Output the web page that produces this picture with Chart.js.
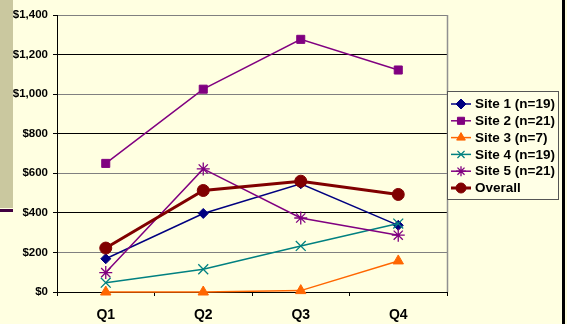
<!DOCTYPE html>
<html>
<head>
<meta charset="utf-8">
<script src="https://cdn.jsdelivr.net/npm/chart.js@4/dist/chart.umd.min.js"></script>
<style>
  html, body { margin: 0; padding: 0; background: #FFFFE1; overflow: hidden; }
  canvas { display: block; }
</style>
</head>
<body>
<canvas id="c" width="567" height="324"></canvas>
<script>
const categories = ['Q1', 'Q2', 'Q3', 'Q4'];
const seriesLabels = ['Site 1 (n=19)', 'Site 2 (n=21)', 'Site 3 (n=7)', 'Site 4 (n=19)', 'Site 5 (n=21)', 'Overall'];
const site1 = [168, 397, 547, 337];
const site2 = [650, 1025, 1277, 1122];
const site3 = [0, 0, 7, 157];
const site4 = [47, 115, 233, 346];
const site5 = [98, 622, 374, 287];
const overall = [222, 513, 560, 493];
const yMin = 0, yMax = 1400, yStep = 200;

const FONT = "'Liberation Sans', Arial, sans-serif";

function mk(label, data, color, style, radius, width, order) {
  return {
    label, data,
    borderColor: color, backgroundColor: color,
    pointBackgroundColor: color, pointBorderColor: color,
    pointStyle: style, pointRadius: radius, pointHoverRadius: radius,
    pointBorderWidth: (style === 'crossRot' || style === 'star') ? 1.3 : 1,
    borderWidth: width, tension: 0, fill: false, clip: false, order
  };
}

const datasets = [
  mk(seriesLabels[0], site1, '#000080', 'rectRot', 5, 1.5, 6),
  mk(seriesLabels[1], site2, '#800080', 'rect', 5.7, 1.5, 5),
  mk(seriesLabels[2], site3, '#FF6600', 'triangle', 6, 1.5, 4),
  mk(seriesLabels[3], site4, '#008080', 'crossRot', 7, 1.5, 3),
  mk(seriesLabels[4], site5, '#800080', 'star', 6.5, 1.5, 2),
  mk(seriesLabels[5], overall, '#800000', 'circle', 6, 3, 1)
];

function drawMarker(ctx, style, r, x, y, color, bw) {
  if (Chart.helpers && Chart.helpers.drawPoint) {
    ctx.save();
    ctx.fillStyle = color; ctx.strokeStyle = color; ctx.lineWidth = bw;
    Chart.helpers.drawPoint(ctx, { pointStyle: style, radius: r, rotation: 0, borderWidth: bw }, x, y);
    ctx.restore();
  }
}

const decor = {
  id: 'decor',
  beforeDraw(chart) {
    const ctx = chart.ctx;
    ctx.save();
    ctx.fillStyle = '#CAC89F';
    ctx.fillRect(0, 0, 13, 208);
    ctx.fillStyle = '#400040';
    ctx.fillRect(0, 209, 13, 3);
    ctx.fillStyle = '#000';
    ctx.fillRect(562, 0, 3, 324);
    ctx.restore();
  },
  afterDraw(chart) {
    const ctx = chart.ctx;
    const a = chart.chartArea;
    ctx.save();
    ctx.strokeStyle = '#909090';
    ctx.lineWidth = 1.5;
    ctx.beginPath();
    ctx.moveTo(Math.round(a.right) + 0.5, a.top);
    ctx.lineTo(Math.round(a.right) + 0.5, a.bottom);
    ctx.stroke();
    // legend
    const lx = 447, ly = 91, lw = 111, lh = 108;
    ctx.fillStyle = '#FFFFE6';
    ctx.fillRect(lx, ly, lw, lh);
    ctx.strokeStyle = '#555';
    ctx.lineWidth = 1;
    ctx.strokeRect(lx + 0.5, ly + 0.5, lw, lh);
    ctx.font = "bold 13.5px " + FONT;
    ctx.textBaseline = 'middle';
    ctx.textAlign = 'left';
    chart.data.datasets.forEach((ds, i) => {
      const y = 104 + i * 16.8;
      ctx.strokeStyle = ds.borderColor;
      ctx.lineWidth = ds.borderWidth;
      ctx.beginPath();
      ctx.moveTo(451, y);
      ctx.lineTo(471, y);
      ctx.stroke();
      drawMarker(ctx, ds.pointStyle, Math.min(ds.pointRadius, 5), 461, y, ds.borderColor, ds.pointBorderWidth);
      ctx.fillStyle = '#000';
      ctx.fillText(ds.label, 475, y + 0.5);
    });
    ctx.restore();
  }
};

new Chart(document.getElementById('c'), {
  type: 'line',
  data: { labels: categories, datasets },
  options: {
    responsive: false,
    animation: false,
    devicePixelRatio: 1,
    layout: { padding: { left: 0, top: 15, right: 120, bottom: 0 } },
    plugins: { legend: { display: false }, tooltip: { enabled: false } },
    scales: {
      x: {
        type: 'category',
        offset: true,
        grid: { offset: true, drawOnChartArea: false, drawTicks: true, tickLength: 4, color: '#000', lineWidth: 1 },
        border: { color: '#000', width: 1 },
        ticks: { color: '#000', font: { family: FONT, size: 14, weight: 'bold' }, padding: 11, maxRotation: 0 },
        afterFit(s) { s.height = 32; }
      },
      y: {
        min: yMin, max: yMax,
        grid: {
          color: (c) => (c.tick && c.tick.value % 400 === 0) ? '#000' : '#808080',
          tickColor: '#000', tickLength: 4, lineWidth: 1
        },
        border: { color: '#000', width: 1 },
        ticks: {
          stepSize: yStep, color: '#000', padding: 5,
          font: { family: FONT, size: 11.5, weight: 'bold' },
          callback: (v) => '$' + Number(v).toLocaleString('en-US')
        },
        afterFit(s) { s.width = 57; }
      }
    }
  },
  plugins: [decor]
});
</script>
</body>
</html>
